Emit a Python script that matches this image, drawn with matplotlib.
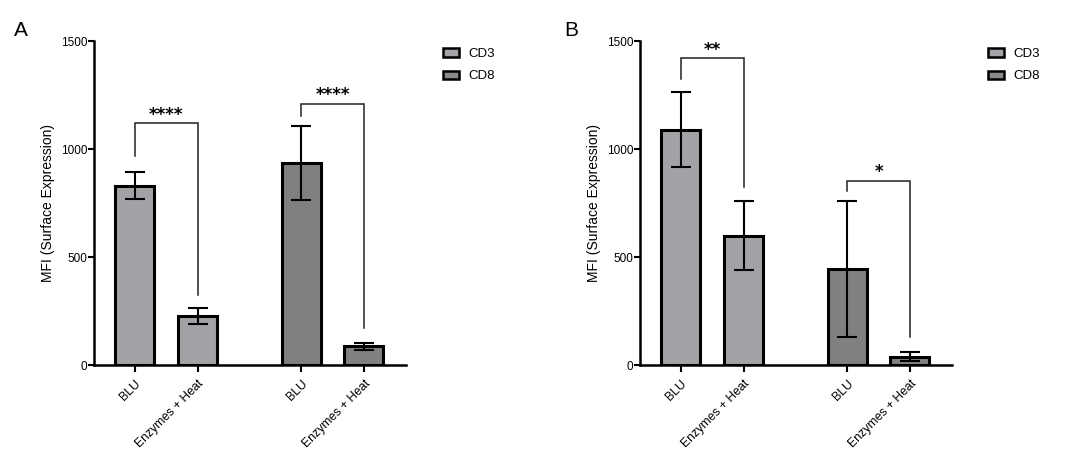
import matplotlib
matplotlib.use("Agg")
import matplotlib.pyplot as plt
from matplotlib.patches import Patch
import numpy as np

plt.rcParams['font.family'] = ['Liberation Sans', 'DejaVu Sans']

# ---- data ----
groups = ['CD3', 'CD8']
conditions = ['BLU', 'Enzymes + Heat']
tick_labels = ['BLU', 'Enzymes + Heat', 'BLU', 'Enzymes + Heat']
positions = [0, 1, 2.65, 3.65]

A_means = [830, 228, 936, 86]
A_sd = [62, 36, 170, 17]
B_means = [1090, 598, 443, 38]
B_sd = [175, 160, 315, 20]

# brackets: bar height, left leg end, right leg end, label
A_brackets_y = [1120, 1210]
A_brackets_left = [968, 1153]
A_brackets_right = [322, 171]
A_sig = ['****', '****']

B_brackets_y = [1419, 854]
B_brackets_left = [1322, 805]
B_brackets_right = [823, 129]
B_sig = ['**', '*']

colors = ['#a3a3a7', '#a3a3a7', '#808080', '#808080']
legend_colors = ['#a3a3a7', '#8a8a8a']

fig = plt.figure(figsize=(10.88, 4.76), dpi=100)

def draw(ax_rect, means, sds, br_y, br_l, br_r, sig, legend_x, panel_label, label_x):
    ax = fig.add_axes(ax_rect)
    ax.bar(positions, means, width=0.62, color=colors, edgecolor='black',
           linewidth=2.2, zorder=2)
    ax.errorbar(positions, means, yerr=sds, fmt='none', ecolor='black',
                elinewidth=1.5, capsize=7, capthick=1.5, zorder=3)
    for i in range(2):
        xl = positions[2 * i]
        xr = positions[2 * i + 1]
        ax.plot([xl, xl, xr, xr], [br_l[i], br_y[i], br_y[i], br_r[i]],
                color='#222222', linewidth=1.1, zorder=4, solid_joinstyle='miter')
        ax.annotate(sig[i], xy=((xl + xr) / 2, br_y[i]), xytext=(0, 2.5),
                    textcoords='offset points', ha='center', va='baseline',
                    fontsize=12, fontweight='bold', family='DejaVu Sans')
    ax.set_xlim(-0.65, 4.32)
    ax.set_ylim(0, 1500)
    ax.set_yticks([0, 500, 1000, 1500])
    ax.set_xticks(positions)
    ax.set_xticklabels(tick_labels, rotation=45, ha='right', va='top',
                       rotation_mode='anchor', fontsize=8.8)
    ax.tick_params(axis='y', labelsize=8.5, width=1.5, length=4, pad=1)
    ax.tick_params(axis='x', width=1.5, length=5, pad=4)
    for s in ['top', 'right']:
        ax.spines[s].set_visible(False)
    for s in ['left', 'bottom']:
        ax.spines[s].set_linewidth(1.8)
    ax.set_ylabel('MFI (Surface Expression)', fontsize=10, labelpad=4)
    handles = [Patch(facecolor=legend_colors[k], edgecolor='black', linewidth=1.8,
                     label=groups[k]) for k in range(2)]
    fig.legend(handles=handles, loc='upper left', bbox_to_anchor=(legend_x, 0.899),
               frameon=False, fontsize=9.5, handlelength=1.2, handleheight=0.6,
               handletextpad=0.7, labelspacing=0.78, borderpad=0, borderaxespad=0)
    fig.text(label_x, 0.955, panel_label, fontsize=15, ha='left', va='top')
    return ax

draw([94 / 1088, 1 - 365 / 476, 312 / 1088, 324 / 476], A_means, A_sd,
     A_brackets_y, A_brackets_left, A_brackets_right, A_sig, 443 / 1088, 'A', 14 / 1088)
draw([640 / 1088, 1 - 365 / 476, 312 / 1088, 324 / 476], B_means, B_sd,
     B_brackets_y, B_brackets_left, B_brackets_right, B_sig, 988 / 1088, 'B', 564 / 1088)

fig.savefig('out.png', dpi=100)
